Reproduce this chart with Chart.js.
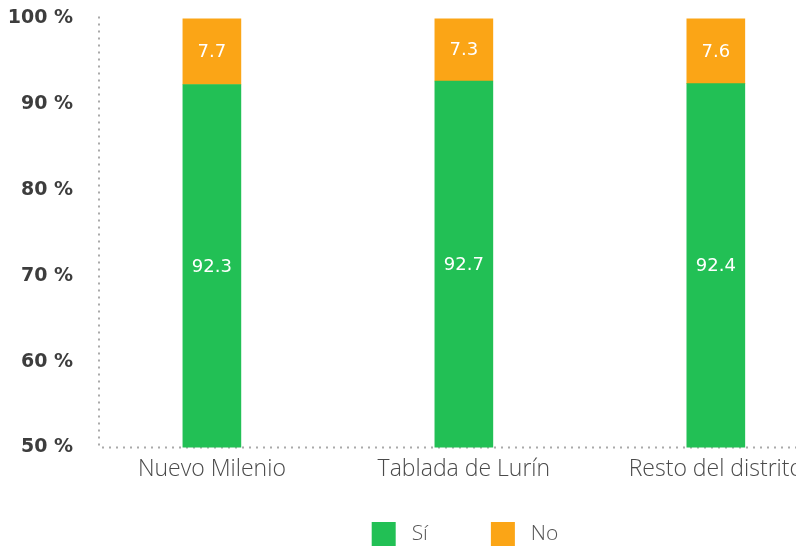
<!DOCTYPE html>
<html>
<head>
<meta charset="utf-8">
<script src="https://cdn.jsdelivr.net/npm/chart.js@4"></script>
<style>
  html, body { margin: 0; padding: 0; background: #fff; overflow: hidden; }
  #wrap { width: 930px; height: 567px; margin-top: -11px; }
</style>
</head>
<body>
<div id="wrap"><canvas id="chart" width="930" height="567"></canvas></div>
<script>
// Categories and series
const categories = ['Nuevo Milenio', 'Tablada de Lurín', 'Resto del distrito'];
const siValues = [92.3, 92.7, 92.4];
const noValues = [7.7, 7.3, 7.6];
const yTicks = [50, 60, 70, 80, 90, 100];

const GREEN = '#22c055';
const ORANGE = '#fba516';
const AXIS = '#aaaaaa';
const NBSP = '\u00a0';

// write each value in the middle of the visible part of its segment
const valueLabels = {
    id: 'valueLabels',
    afterDatasetsDraw(chart) {
        const { ctx, chartArea } = chart;
        ctx.save();
        ctx.fillStyle = '#fff';
        ctx.font = '18px "DejaVu Sans"';
        ctx.textAlign = 'center';
        ctx.textBaseline = 'middle';
        chart.data.datasets.forEach((ds, i) => {
            chart.getDatasetMeta(i).data.forEach((bar, j) => {
                const p = bar.getProps(['x', 'y', 'base'], true);
                const base = Math.min(p.base, chartArea.bottom);
                ctx.fillText(ds.data[j].y.toFixed(1), p.x, (p.y + base) / 2 + 1);
            });
        });
        ctx.restore();
    }
};

// dotted left and bottom axis lines
const dottedAxes = {
    id: 'dottedAxes',
    beforeDatasetsDraw(chart) {
        const { ctx, chartArea: a } = chart;
        ctx.save();
        ctx.strokeStyle = AXIS;
        ctx.lineWidth = 2;
        ctx.setLineDash([2, 5]);
        ctx.beginPath();
        ctx.moveTo(a.left, a.top - 2);
        ctx.lineTo(a.left, a.bottom);
        ctx.lineTo(a.right, a.bottom);
        ctx.stroke();
        ctx.restore();
    }
};

new Chart(document.getElementById('chart'), {
    type: 'bar',
    data: {
        datasets: [
            {
                label: 'Sí',
                data: siValues.map((v, i) => ({ x: i, y: v })),
                backgroundColor: GREEN,
                barThickness: 58
            },
            {
                label: 'No',
                data: noValues.map((v, i) => ({ x: i, y: v })),
                backgroundColor: ORANGE,
                barThickness: 58
            }
        ]
    },
    options: {
        responsive: false,
        animation: false,
        layout: { padding: 0 },
        plugins: {
            legend: {
                position: 'bottom',
                labels: {
                    boxWidth: 24,
                    boxHeight: 24,
                    padding: 5,
                    color: '#555',
                    font: { family: 'Open Sans', size: 21, weight: '300' },
                    generateLabels: (chart) => {
                        const items = Chart.defaults.plugins.legend.labels.generateLabels(chart);
                        items.forEach((it, i) => {
                            it.text = NBSP + it.text + (i === 0 ? NBSP.repeat(10) + '\u2009' : '');
                        });
                        return items;
                    }
                }
            },
            tooltip: { enabled: false }
        },
        scales: {
            x: {
                type: 'linear',
                stacked: true,
                offset: false,
                min: -0.448,
                max: 2.85,
                afterBuildTicks: (scale) => {
                    scale.ticks = categories.map((c, i) => ({ value: i }));
                },
                afterFit: (scale) => { scale.height += 34; },
                ticks: {
                    color: '#4a4a4a',
                    font: { family: 'Open Sans', size: 23, weight: '300' },
                    padding: 0,
                    maxRotation: 0,
                    callback: (v) => categories[v]
                },
                grid: { display: false },
                border: { display: false }
            },
            y: {
                stacked: true,
                min: 50,
                max: 100,
                afterFit: (scale) => { scale.width = 99; },
                afterBuildTicks: (scale) => {
                    scale.ticks = yTicks.map(v => ({ value: v }));
                },
                ticks: {
                    color: '#3d3d3d',
                    font: { family: 'DejaVu Sans', size: 19, weight: 'bold' },
                    padding: 18,
                    callback: (v) => v + ' %'
                },
                grid: { display: false },
                border: { display: false }
            }
        }
    },
    plugins: [dottedAxes, valueLabels]
});
</script>
</body>
</html>
